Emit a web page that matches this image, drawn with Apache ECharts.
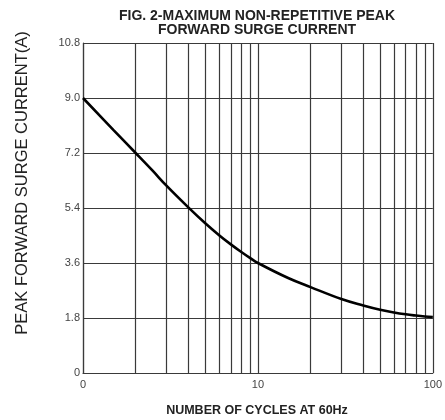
<!DOCTYPE html>
<html>
<head>
<meta charset="utf-8">
<script src="https://cdn.jsdelivr.net/npm/echarts@6/dist/echarts.min.js"></script>
<style>html,body{margin:0;padding:0;background:#fff;}#c{width:445px;height:420px;}</style>
</head>
<body>
<div id="c"></div>
<script>
// Data
const cycles = [1, 1.5, 2, 2.5, 3, 4, 5, 6, 7, 8, 9, 10, 15, 20, 30, 40, 50, 60, 70, 80, 90, 100];
const currentA = [9.0, 7.94, 7.2, 6.62, 6.13, 5.42, 4.90, 4.51, 4.21, 3.97, 3.77, 3.6, 3.10, 2.81, 2.42, 2.21, 2.07, 1.98, 1.92, 1.88, 1.85, 1.83];
const minorGridCycles = [2, 3, 4, 5, 6, 7, 8, 9, 20, 30, 40, 50, 60, 70, 80, 90];
const yTicks = [0, 1.8, 3.6, 5.4, 7.2, 9.0, 10.8];
const titleLines = ['FIG. 2-MAXIMUM NON-REPETITIVE PEAK', 'FORWARD SURGE CURRENT'];
const yName = 'PEAK FORWARD SURGE CURRENT(A)';
const xName = 'NUMBER OF CYCLES AT 60Hz';

const FONT = 'Liberation Sans, Arial, Helvetica, sans-serif';
const GRID = '#3a3a3a';

const chart = echarts.init(document.getElementById('c'), null, {renderer: 'canvas'});
chart.setOption({
  animation: false,
  backgroundColor: '#fff',
  grid: {left: 83, right: 9, top: 43, bottom: 47, containLabel: false},
  xAxis: {
    type: 'log', logBase: 10, min: 1, max: 100,
    axisLine: {show: true, lineStyle: {color: GRID, width: 1.2}},
    axisTick: {show: false},
    splitLine: {show: true, lineStyle: {color: GRID, width: 1.2}},
    axisLabel: {
      color: '#444', fontSize: 11, fontFamily: FONT, margin: 6,
      formatter: v => (v === 1 ? '0' : String(v))
    }
  },
  yAxis: {
    type: 'value', min: yTicks[0], max: yTicks[yTicks.length - 1], interval: 1.8,
    axisLine: {show: true, lineStyle: {color: GRID, width: 1.2}},
    axisTick: {show: false},
    splitLine: {show: true, lineStyle: {color: GRID, width: 1.2}},
    axisLabel: {
      color: '#444', fontSize: 11, fontFamily: FONT, margin: 3,
      formatter: v => {
        const r = Math.round(v * 10) / 10;
        return r === 0 ? '0' : r.toFixed(1);
      }
    }
  },
  series: [{
    type: 'line',
    data: cycles.map((c, i) => [c, currentA[i]]),
    smooth: 0.4,
    showSymbol: false,
    lineStyle: {color: '#000', width: 2.6},
    z: 5,
    markLine: {
      silent: true,
      symbol: ['none', 'none'],
      label: {show: false},
      lineStyle: {color: GRID, width: 1.2, type: 'solid'},
      data: minorGridCycles.map(v => ({xAxis: v}))
    }
  }],
  graphic: [
    {type: 'text', x: 257, y: 16, style: {text: titleLines[0], fontSize: 14, fontWeight: 'bold', fontFamily: FONT, fill: '#222', textAlign: 'center', textVerticalAlign: 'middle'}},
    {type: 'text', x: 257, y: 30, style: {text: titleLines[1], fontSize: 14, fontWeight: 'bold', fontFamily: FONT, fill: '#222', textAlign: 'center', textVerticalAlign: 'middle'}},
    {type: 'text', x: 22, y: 183, rotation: Math.PI / 2, style: {text: yName, fontSize: 16.5, fontFamily: FONT, fill: '#222', textAlign: 'center', textVerticalAlign: 'middle'}},
    {type: 'text', x: 257, y: 411, style: {text: xName, fontSize: 12.5, fontWeight: 'bold', fontFamily: FONT, fill: '#222', textAlign: 'center', textVerticalAlign: 'middle'}}
  ]
});
</script>
</body>
</html>
